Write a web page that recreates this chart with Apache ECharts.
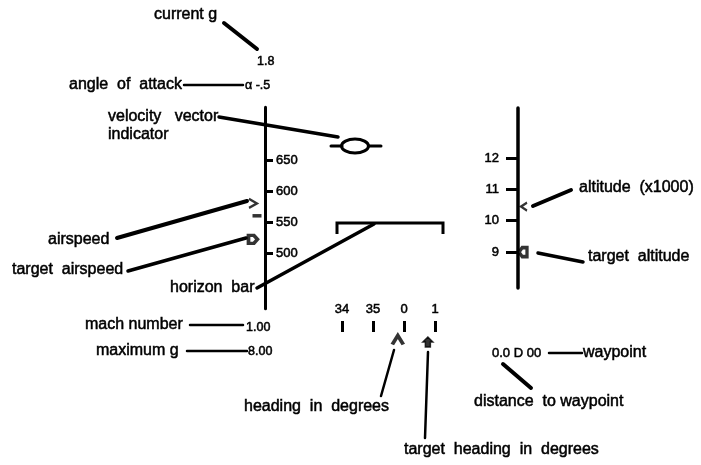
<!DOCTYPE html>
<html>
<head>
    <meta charset="utf-8">
    <title>HUD</title>
    <script src="https://cdn.jsdelivr.net/npm/echarts@6/dist/echarts.min.js"></script>
    <style>
        html, body { margin: 0; background: #fff; }
        #main { width: 701px; height: 465px; }
    </style>
</head>
<body>
<div id="main"></div>
<script>
    // tape scales
    var speedTicks = [500, 550, 600, 650];
    var altTicks = [9, 10, 11, 12];
    var headingTicks = [340, 350, 360, 370];

    // readings shown on the HUD
    var airspeed = 580;
    var speedStub = 560;
    var targetAirspeed = 522;
    var altitude = 10.45;
    var targetAltitude = 9.0;
    var heading = 358;
    var targetHeading = 367.7;
    var currentG = '1.8';
    var alpha = 'α -.5';
    var mach = '1.00';
    var maxG = '8.00';
    var waypoint = '0.0 D 00';

    var FONT = '"Liberation Sans", Arial, sans-serif';
    var INK = '#000';

    // scanned print looks a bit heavier than plain Arial, so stroke the glyphs lightly
    function txt(s, x, y, size) {
        return {
            type: 'text', x: x, y: y, silent: true,
            style: {
                text: s, fill: INK, font: (size || 16) + 'px ' + FONT, verticalAlign: 'middle',
                stroke: INK, lineWidth: 0.5
            }
        };
    }
    function seg(x1, y1, x2, y2, w) {
        return {
            type: 'line', silent: true,
            shape: { x1: x1, y1: y1, x2: x2, y2: y2 },
            style: { stroke: INK, lineWidth: w || 3, lineCap: 'round' }
        };
    }
    var tickLabel = { color: INK, fontSize: 13, fontFamily: FONT, textBorderColor: INK, textBorderWidth: 0.5 };

    var myChart = echarts.init(document.getElementById('main'));
    var option = {
        animation: false,
        backgroundColor: '#fff',
        grid: [
            { left: 200, width: 65, top: 107.3, height: 201.5, outerBoundsMode: 'none' },
            { left: 518, width: 60, top: 107.9, height: 180.2, outerBoundsMode: 'none' },
            { left: 311, width: 155, top: 332, height: 20, outerBoundsMode: 'none' }
        ],
        xAxis: [
            { gridIndex: 0, type: 'value', min: -65, max: 0, show: false },
            { gridIndex: 1, type: 'value', min: 0, max: 60, show: false },
            {
                gridIndex: 2, type: 'value', min: 330, max: 380, position: 'top',
                axisLine: { show: false },
                splitLine: { show: false },
                axisTick: { show: true, customValues: headingTicks, length: 11, lineStyle: { color: INK, width: 3 } },
                axisLabel: Object.assign({
                    customValues: headingTicks, margin: 16,
                    formatter: function (v) { return String(Math.round(v / 10) % 36); }
                }, tickLabel)
            }
        ],
        yAxis: [
            {
                gridIndex: 0, type: 'value', min: 410, max: 735, position: 'right',
                axisLine: { show: true, lineStyle: { color: INK, width: 3 } },
                splitLine: { show: false },
                axisTick: { show: true, customValues: speedTicks, length: 8, lineStyle: { color: INK, width: 3 } },
                axisLabel: Object.assign({ customValues: speedTicks, margin: 11 }, tickLabel)
            },
            {
                gridIndex: 1, type: 'value', min: 7.85, max: 13.6, position: 'left',
                axisLine: { show: true, lineStyle: { color: INK, width: 3.5 } },
                splitLine: { show: false },
                axisTick: { show: true, customValues: altTicks, length: 12, lineStyle: { color: INK, width: 3 } },
                axisLabel: Object.assign({ customValues: altTicks, margin: 19 }, tickLabel)
            },
            { gridIndex: 2, type: 'value', min: 0, max: 20, inverse: true, show: false }
        ],
        series: [
            {
                type: 'scatter', xAxisIndex: 0, yAxisIndex: 0, silent: true,
                symbol: 'path://M0,0 L10,5 L0,10', symbolSize: [8, 9],
                itemStyle: { color: 'rgba(0,0,0,0)', borderColor: INK, borderWidth: 2.2 },
                data: [[-12, airspeed]]
            },
            {
                type: 'scatter', xAxisIndex: 0, yAxisIndex: 0, silent: true,
                symbol: 'rect', symbolSize: [9, 3.5],
                itemStyle: { color: INK },
                data: [[-8, speedStub]]
            },
            {
                type: 'scatter', xAxisIndex: 0, yAxisIndex: 0, silent: true,
                symbol: 'path://M0,0 L6,0 L10,5 L6,10 L0,10 Z', symbolSize: [9, 8],
                itemStyle: { color: '#fff', borderColor: INK, borderWidth: 3.5 },
                data: [[-12, targetAirspeed]]
            },
            {
                type: 'scatter', xAxisIndex: 1, yAxisIndex: 1, silent: true,
                symbol: 'path://M10,0 L0,5 L10,10', symbolSize: [6, 8],
                itemStyle: { color: 'rgba(0,0,0,0)', borderColor: INK, borderWidth: 2.2 },
                data: [[6, altitude]]
            },
            {
                type: 'scatter', xAxisIndex: 1, yAxisIndex: 1, silent: true,
                symbol: 'path://M10,0 L4,0 L0,5 L4,10 L10,10 Z', symbolSize: [8, 9],
                itemStyle: { color: '#fff', borderColor: INK, borderWidth: 3.5 },
                data: [[5, targetAltitude]]
            },
            {
                type: 'scatter', xAxisIndex: 2, yAxisIndex: 2, silent: true,
                symbol: 'path://M0,10 L5,0 L10,10', symbolSize: [11, 9],
                itemStyle: { color: 'rgba(0,0,0,0)', borderColor: INK, borderWidth: 3.5 },
                data: [[heading, 8]]
            },
            {
                type: 'scatter', xAxisIndex: 2, yAxisIndex: 2, silent: true,
                symbol: 'path://M5,0 L10,5 L7.5,5 L7.5,10 L2.5,10 L2.5,5 L0,5 Z', symbolSize: [10, 10],
                itemStyle: { color: INK, borderColor: INK, borderWidth: 1.5 },
                data: [[targetHeading, 10]]
            }
        ],
        graphic: [
            // current g
            txt('current g', 154, 15),
            seg(224, 23, 257, 49, 4),
            txt(currentG, 257, 62, 12.5),
            // angle of attack
            txt('angle  of  attack', 69, 85),
            seg(184, 85, 243, 85, 2.5),
            txt(alpha, 245, 86, 12.5),
            // velocity vector indicator
            txt('velocity   vector', 108, 117),
            txt('indicator', 108, 135),
            seg(219, 117, 338, 137, 3.5),
            {
                type: 'ellipse', silent: true,
                shape: { cx: 355, cy: 146, rx: 13.5, ry: 7 },
                style: { fill: null, stroke: INK, lineWidth: 3 }
            },
            seg(331, 146, 342, 146, 3),
            seg(369, 146, 381, 146, 3),
            // horizon bar
            {
                type: 'polyline', silent: true,
                shape: { points: [[337, 234], [337, 223], [443, 223], [443, 234]] },
                style: { fill: null, stroke: INK, lineWidth: 3 }
            },
            txt('horizon  bar', 170, 288),
            seg(257, 288, 374, 224, 3.5),
            // airspeed
            txt('airspeed', 48, 240),
            seg(117, 238, 247, 201, 4),
            txt('target  airspeed', 12, 270),
            seg(128, 271, 246, 238, 3.5),
            // altitude
            txt('altitude  (x1000)', 579, 188),
            seg(533, 206, 571, 190, 4),
            txt('target  altitude', 588, 257),
            seg(538, 253, 583, 262, 3.5),
            // mach and max g
            txt('mach number', 85, 325),
            seg(190, 325, 243, 325, 2.5),
            txt(mach, 246, 328, 12.5),
            txt('maximum g', 96, 351),
            seg(187, 351, 247, 351, 2.5),
            txt(maxG, 248, 352, 12.5),
            // waypoint
            txt(waypoint, 492, 353, 13),
            seg(549, 353, 582, 353, 2.5),
            txt('waypoint', 583, 353),
            seg(503, 364, 531, 388, 4),
            txt('distance  to waypoint', 474, 402),
            // heading
            seg(394, 350, 381, 396, 2.5),
            txt('heading  in  degrees', 244, 407),
            seg(428, 352, 425, 438, 2.5),
            txt('target  heading  in  degrees', 404, 450)
        ]
    };
    myChart.setOption(option);
</script>
</body>
</html>
